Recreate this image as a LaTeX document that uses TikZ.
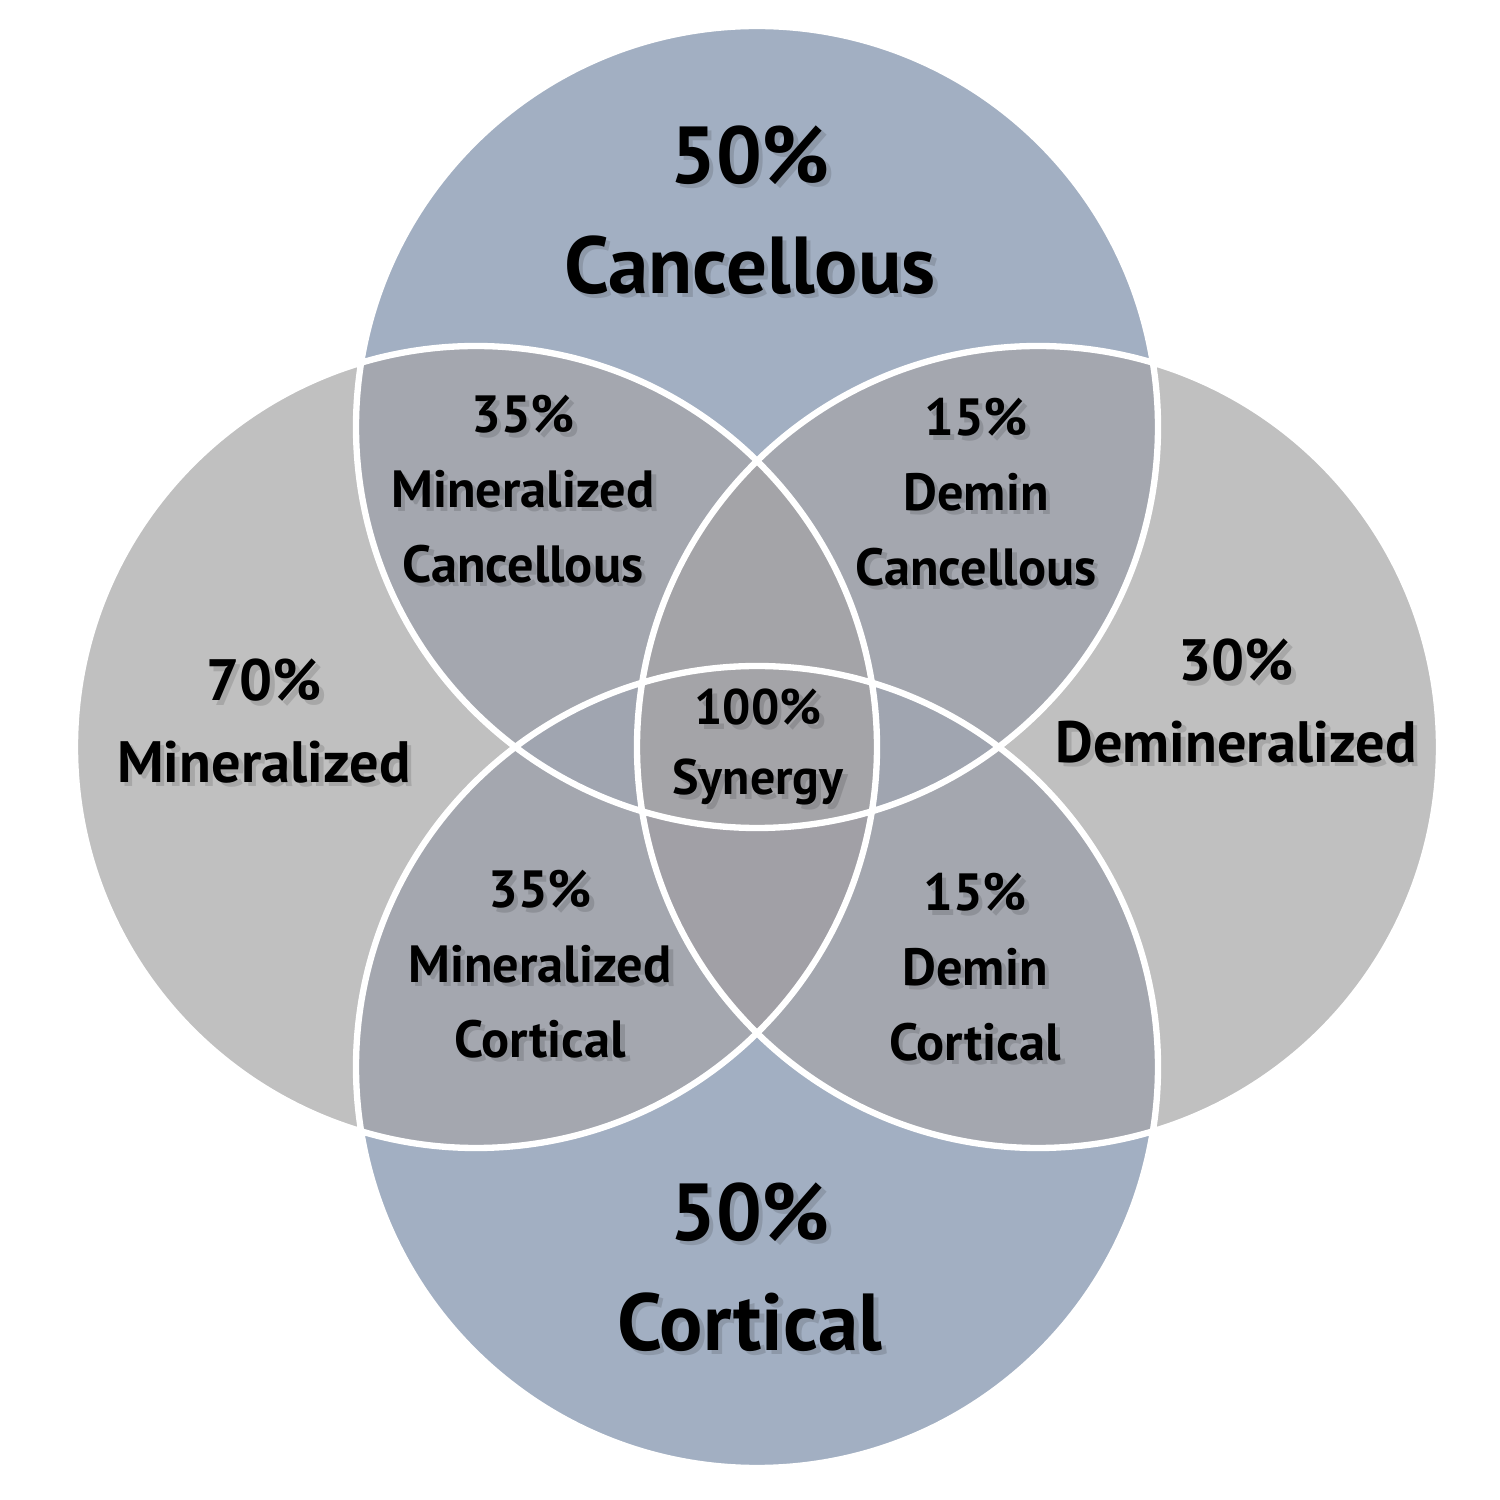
\documentclass[tikz,border=0pt]{standalone}
\usepackage{fontspec}
\setmainfont{PT Sans}
\definecolor{setblue}{RGB}{162,175,194}
\definecolor{setgray}{RGB}{192,192,192}
\definecolor{pairgray}{RGB}{164,167,175}
\definecolor{vlens}{RGB}{161,160,166}
\definecolor{hlens}{RGB}{160,165,176}
\definecolor{coregray}{RGB}{164,164,168}
% text with a soft shadow under it
\newcommand{\setlabel}[4]{%
  \node[#3,text=black,opacity=.13,xshift=1.3pt,yshift=-1.3pt] (#1s) at (#2) {#4};
  \node[#3] (#1) at (#2) {#4};}

\begin{document}
\begin{tikzpicture}[
  ring/.style={draw=white,line width=1.8pt},
  big/.style={font=\fontsize{23}{31.3}\selectfont\bfseries,align=center},
  mid/.style={font=\fontsize{16.6}{23.3}\selectfont\bfseries,align=center},
  sml/.style={font=\fontsize{14.9}{21.3}\selectfont\bfseries,align=center},
  ctr/.style={font=\fontsize{14.2}{19.9}\selectfont\bfseries,align=center}]
  \useasboundingbox (0,0) rectangle (15,15);
  \def\rad{4.01}
  \coordinate (T) at (7.57,10.73);
  \coordinate (B) at (7.57,4.33);
  \coordinate (L) at (4.76,7.53);
  \coordinate (R) at (10.38,7.53);

  % base discs
  \fill[setgray] (L) circle (\rad) (R) circle (\rad);
  \fill[setblue] (T) circle (\rad) (B) circle (\rad);
  % overlaps
  \foreach \a/\b in {T/L,T/R,B/L,B/R}{
    \begin{scope}
      \clip (\a) circle (\rad);
      \fill[pairgray] (\b) circle (\rad);
    \end{scope}}
  \begin{scope}
    \clip (L) circle (\rad);
    \fill[vlens] (R) circle (\rad);
  \end{scope}
  \begin{scope}
    \clip (T) circle (\rad);
    \fill[hlens] (B) circle (\rad);
    \clip (L) circle (\rad);
    \fill[coregray] (R) circle (\rad);
  \end{scope}
  \foreach \c in {T,B,L,R}
    \draw[ring] (\c) circle (\rad);

  \setlabel{canc}{7.50,12.90}{big}{50\%\\Cancellous}
  \setlabel{cort}{7.50,2.33}{big}{50\%\\Cortical}
  \setlabel{mine}{2.64,7.79}{mid}{70\%\\Mineralized}
  \setlabel{demi}{12.36,7.99}{mid}{30\%\\Demineralized}
  \setlabel{minecanc}{5.23,10.11}{sml}{35\%\\Mineralized\\Cancellous}
  \setlabel{demicanc}{9.76,10.08}{sml}{15\%\\Demin\\Cancellous}
  \setlabel{minecort}{5.40,5.36}{sml}{35\%\\Mineralized\\Cortical}
  \setlabel{demicort}{9.75,5.33}{sml}{15\%\\Demin\\Cortical}
  \setlabel{syn}{7.58,7.53}{ctr}{100\%\\Synergy}
\end{tikzpicture}
\end{document}
